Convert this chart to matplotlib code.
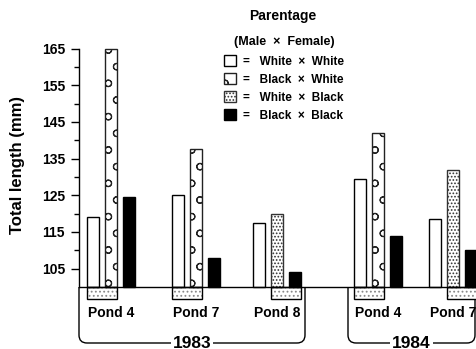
import numpy as np
import matplotlib
matplotlib.use("Agg")
import matplotlib.pyplot as plt
from matplotlib.patches import Patch, PathPatch
from matplotlib.path import Path

plt.rcParams['font.family'] = ['Liberation Sans', 'DejaVu Sans']
plt.rcParams['hatch.linewidth'] = 0.8

# ---- data ----
ponds = ['Pond 4', 'Pond 7', 'Pond 8', 'Pond 4', 'Pond 7']
years = ['1983', '1983', '1983', '1984', '1984']
white_white = [119.0, 125.0, 117.5, 129.5, 118.5]
black_white = [165.0, 137.5, np.nan, 142.0, np.nan]
white_black = [np.nan, np.nan, 120.0, np.nan, 132.0]
black_black = [124.5, 108.0, 104.0, 114.0, 110.0]
marked_pair = ['left', 'left', 'right', 'left', 'right']
yticks = [105, 115, 125, 135, 145, 155, 165]
legend_labels = ['=   White  \u00d7  White', '=   Black  \u00d7  White',
                 '=   White  \u00d7  Black', '=   Black  \u00d7  Black']

# ---- layout (pixel-based x axis) ----
W, H = 477, 349
fig = plt.figure(figsize=(W / 100, H / 100), dpi=100)
ax = fig.add_axes([0, 0, 1, 1])
ppu = 3.667           # pixels per mm
base_px = 287         # pixel row of y=100
ax.set_xlim(0, W)
ax.set_ylim(100 - (H - base_px) / ppu, 100 + base_px / ppu)
ax.patch.set_visible(False)

centers = np.array([111, 196.5, 277, 378, 453.5])
off = 18
bw = 12
axis_x = 79
base = 100

lw = 1.0
ax.bar(centers - off, np.array(white_white) - base, bw, bottom=base,
       color='white', edgecolor='black', linewidth=lw, zorder=3)
ax.bar(centers, np.array(black_white) - base, bw, bottom=base,
       color='white', edgecolor='#222222', hatch='o', linewidth=lw, zorder=3)
ax.bar(centers, np.array(white_black) - base, bw, bottom=base,
       color='white', edgecolor='#333333', hatch='.....', linewidth=lw, zorder=3)
ax.bar(centers + off, np.array(black_black) - base, bw, bottom=base,
       color='black', edgecolor='black', linewidth=lw, zorder=3)

# stippled boxes below baseline under the marked pair of bars
box_depth = 12 / ppu
box_x = np.array([c - off / 2 if m == 'left' else c + off / 2
                  for c, m in zip(centers, marked_pair)])
box_w = off + bw
ax.bar(box_x, -box_depth, box_w, bottom=base, color='white',
       edgecolor='#888888', hatch='....', linewidth=0, zorder=2)
ax.bar(box_x, -box_depth, box_w, bottom=base, fill=False,
       edgecolor='black', linewidth=lw, zorder=4)

# baseline
ax.hlines(base, axis_x, W, color='black', linewidth=lw, zorder=5)

# y axis
for s in ['top', 'right', 'bottom']:
    ax.spines[s].set_visible(False)
ax.spines['left'].set_position(('data', axis_x))
ax.spines['left'].set_bounds(base, 165)
ax.spines['left'].set_linewidth(lw)
ax.set_yticks(yticks)
ax.set_yticklabels([str(t) for t in yticks], fontsize=10, fontweight='bold')
ax.set_yticks(np.arange(110, 165, 10), minor=True)
ax.tick_params(axis='y', which='major', direction='out', length=6, width=lw, pad=4)
ax.tick_params(axis='y', which='minor', direction='out', length=3.5, width=lw)
ax.set_xticks([])
ax.set_ylabel('Total length (mm)', fontsize=12, fontweight='bold', va='center')
ax.yaxis.set_label_coords(18 / W, (H - 165) / H)

# pond labels
label_y = base - 26 / ppu
for c, p in zip(centers, ponds):
    ax.text(c, label_y, p, ha='center', va='center', fontsize=10,
            fontweight='bold')

# year brackets
bottom = base - 56 / ppu
rx = 8
ry = rx / ppu
def bracket(x0, x1):
    verts = [(x0, base), (x0, bottom + ry), (x0, bottom), (x0 + rx, bottom),
             (x1 - rx, bottom), (x1, bottom), (x1, bottom + ry), (x1, base)]
    codes = [Path.MOVETO, Path.LINETO, Path.CURVE3, Path.CURVE3,
             Path.LINETO, Path.CURVE3, Path.CURVE3, Path.LINETO]
    ax.add_patch(PathPatch(Path(verts, codes), fill=False, edgecolor='black',
                           linewidth=lw, zorder=1))
year_spans = {'1983': (axis_x, 305), '1984': (348, 475)}
for yr, (x0, x1) in year_spans.items():
    bracket(x0, x1)
    ax.text((x0 + x1) / 2, bottom, yr, ha='center', va='center', fontsize=12.5,
            fontweight='bold', zorder=6,
            bbox=dict(facecolor='white', edgecolor='none', pad=1.5))

# legend
handles = [Patch(facecolor='white', edgecolor='black', linewidth=lw),
           Patch(facecolor='white', edgecolor='#222222', hatch='o', linewidth=lw),
           Patch(facecolor='white', edgecolor='#333333', hatch='.....', linewidth=lw),
           Patch(facecolor='black', edgecolor='black', linewidth=lw)]
leg = ax.legend(handles, legend_labels, title='(Male  \u00d7  Female)',
                loc='upper left', bbox_to_anchor=(224 / W, 1 - 36 / H),
                bbox_transform=fig.transFigure, frameon=False,
                prop={'weight': 'bold', 'size': 8.5},
                title_fontproperties={'weight': 'bold', 'size': 9},
                handlelength=1.0, handleheight=1.1, handletextpad=0.6,
                labelspacing=0.45, borderpad=0, borderaxespad=0)
leg._legend_box.sep = 5
fig.text(283 / W, 1 - 16 / H, 'Parentage', ha='center', va='center',
         fontsize=10, fontweight='bold')

fig.savefig('out.png', dpi=100)
